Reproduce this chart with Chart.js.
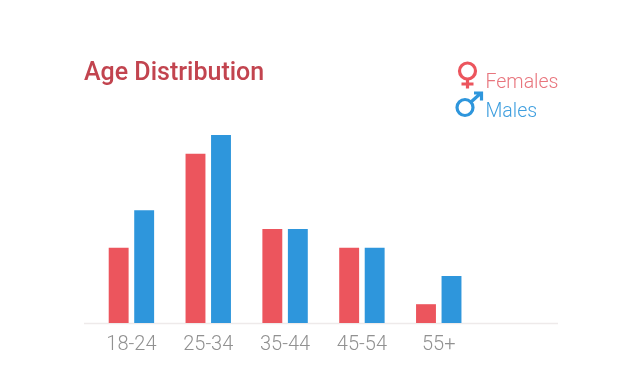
<!DOCTYPE html>
<html>
<head>
<meta charset="utf-8">
<title>Age Distribution</title>
<script src="https://cdn.jsdelivr.net/npm/chart.js@4/dist/chart.umd.min.js"></script>
<style>
    html, body { margin: 0; padding: 0; background: #fff; }
    #box { position: relative; width: 635px; height: 375px; overflow: hidden; }
    #legenda { position: absolute; left: 0; top: 0; width: 635px; height: 375px; pointer-events: none; }
    .item { position: absolute; left: 485.500px; font: 300 19.5px Roboto, sans-serif; line-height: 24px; }
</style>
</head>
<body>
<div id="box">
    <canvas id="grafico" width="635" height="375"></canvas>
    <div id="legenda">
        <svg width="635" height="375" style="position:absolute;left:0;top:0">
            <g fill="none" stroke="#ec555d" stroke-width="3.2">
                <circle cx="467.500" cy="71" r="8"></circle>
                <path d="M467.500 79V88.500M461.500 84H473.500"></path>
            </g>
            <g fill="none" stroke="#2e96dc" stroke-width="3.2">
                <circle cx="465" cy="107.500" r="8"></circle>
                <path d="M471 102L481 93M474 93H481.500V100.500"></path>
            </g>
        </svg>
        <span class="item" style="top:70px;color:#e8757d">Females</span>
        <span class="item" style="top:99px;color:#3f9fdf">Males</span>
    </div>
</div>
<script>
const categorias = ['18-24', '25-34', '35-44', '45-54', '55+', ''];
const females = [8, 18, 10, 8, 2, null];
const males = [12, 20, 10, 8, 5, null];

// linha do eixo passa um pouco das barras dos dois lados
const linhaEixo = {
    id: 'linhaEixo',
    beforeDatasetsDraw(chart) {
        const area = chart.chartArea;
        const ctx = chart.ctx;
        ctx.save();
        ctx.strokeStyle = '#eeeaea';
        ctx.lineWidth = 1.5;
        ctx.beginPath();
        ctx.moveTo(84, area.bottom + 0.5);
        ctx.lineTo(558, area.bottom + 0.5);
        ctx.stroke();
        ctx.restore();
    }
};

new Chart(document.getElementById('grafico'), {
    type: 'bar',
    data: {
        labels: categorias,
        datasets: [
            { label: 'Females', data: females, backgroundColor: '#ec555d' },
            { label: 'Males', data: males, backgroundColor: '#2e96dc' }
        ]
    },
    plugins: [linhaEixo],
    options: {
        responsive: false,
        animation: false,
        categoryPercentage: 0.664,
        barPercentage: 0.78,
        layout: { padding: { left: 84, right: 81, top: 0, bottom: 16 } },
        plugins: {
            legend: { display: false },
            tooltip: { enabled: false },
            title: {
                display: true,
                text: 'Age Distribution',
                align: 'start',
                color: '#c2444f',
                font: { family: 'Roboto', size: 25, weight: '500' },
                padding: { top: 59, bottom: 46 }
            }
        },
        scales: {
            x: {
                grid: { display: false },
                border: { display: false },
                ticks: {
                    color: '#919191',
                    padding: 2,
                    maxRotation: 0,
                    font: { family: 'Roboto', size: 20, weight: '300' }
                }
            },
            y: {
                min: 0,
                max: 20,
                grid: { display: false },
                border: { display: false },
                ticks: { display: false },
                afterFit(escala) { escala.width = 9; }
            }
        }
    }
});
</script>
</body>
</html>
